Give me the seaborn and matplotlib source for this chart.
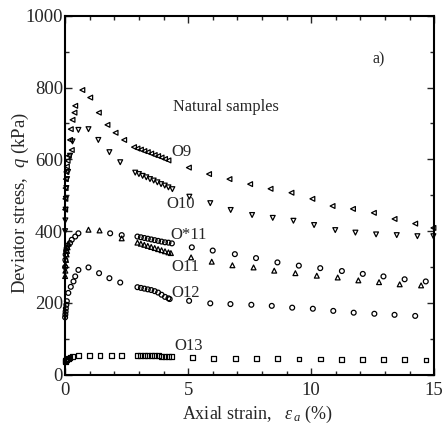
import numpy as np
import pandas as pd
import matplotlib
matplotlib.use("Agg")
import matplotlib.pyplot as plt
import seaborn as sns

# ---- data ----
dense_x = [2.80, 2.94, 3.08, 3.22, 3.36, 3.50, 3.64, 3.78, 3.92, 4.06, 4.20]

o9_x = [0.0, 0.01, 0.02, 0.03, 0.05, 0.07, 0.10, 0.15, 0.20, 0.23, 0.27, 0.30, 0.38, 0.41,
        0.70, 1.02, 1.37, 1.72, 2.05, 2.40] + dense_x + \
       [5.03, 5.85, 6.68, 7.52, 8.35, 9.20, 10.05, 10.87, 11.70, 12.55, 13.39, 14.23, 14.97]
o9_y = [460, 490, 520, 545, 565, 580, 596, 610, 654, 684, 626, 710, 730, 749,
        793, 772, 730, 696, 674, 654] + \
       [634, 630, 627, 623, 620, 616, 612, 609, 605, 601, 597] + \
       [577, 559, 545, 531, 518, 507, 490, 470, 462, 451, 434, 421, 409]

o10_x = [0.0, 0.01, 0.02, 0.03, 0.05, 0.08, 0.12, 0.20, 0.30, 0.54, 0.95, 1.35, 1.80, 2.24] + \
        [2.85, 3.00, 3.15, 3.30, 3.45, 3.60, 3.75, 3.90, 4.05, 4.20, 4.36] + \
        [5.05, 5.90, 6.73, 7.60, 8.44, 9.28, 10.12, 10.98, 11.80, 12.64, 13.48, 14.32, 14.97]
o10_y = [400, 430, 460, 490, 520, 545, 565, 610, 650, 682, 684, 654, 620, 592] + \
        [563, 559, 554, 550, 545, 541, 536, 531, 527, 522, 517] + \
        [496, 478, 459, 445, 437, 429, 417, 403, 396, 391, 389, 386, 386]

os11_x = [0.0, 0.01, 0.02, 0.04, 0.06, 0.10, 0.20, 0.27, 0.41, 0.54, 1.83, 2.30] + \
         [2.94, 3.08, 3.22, 3.36, 3.50, 3.64, 3.78, 3.92, 4.06, 4.20, 4.34] + \
         [5.15, 6.00, 6.90, 7.76, 8.63, 9.50, 10.37, 11.25, 12.10, 12.94, 13.80, 14.66]
os11_y = [300, 320, 335, 345, 352, 360, 367, 376, 385, 394, 394, 389] + \
         [385, 383, 381, 379, 377, 375, 373, 371, 369, 368, 366] + \
         [355, 346, 336, 325, 313, 304, 297, 289, 281, 274, 266, 260]

o11_x = [0.0, 0.01, 0.02, 0.04, 0.06, 0.08, 0.10, 0.14, 0.95, 1.40, 2.30] + \
        [2.94, 3.08, 3.22, 3.36, 3.50, 3.64, 3.78, 3.92, 4.06, 4.20, 4.30] + \
        [5.12, 5.96, 6.80, 7.66, 8.50, 9.36, 10.23, 11.08, 11.92, 12.76, 13.60, 14.47]
o11_y = [275, 290, 305, 320, 335, 345, 355, 365, 404, 402, 380] + \
        [368, 365, 362, 359, 356, 353, 350, 347, 344, 341, 339] + \
        [327, 315, 305, 299, 290, 283, 276, 271, 263, 258, 252, 249]

o12_x = [0.0, 0.01, 0.02, 0.03, 0.05, 0.07, 0.13, 0.23, 0.34, 0.41, 0.54, 0.95, 1.38, 1.80, 2.24] + \
        [2.94, 3.08, 3.22, 3.36, 3.50, 3.64, 3.78, 3.92, 4.06, 4.20, 4.25] + \
        [5.04, 5.90, 6.72, 7.57, 8.40, 9.23, 10.07, 10.90, 11.73, 12.57, 13.39, 14.23]
o12_y = [160, 168, 176, 185, 195, 205, 228, 245, 260, 274, 292, 299, 283, 269, 257] + \
        [244, 242, 240, 238, 236, 233, 229, 223, 217, 213, 211] + \
        [206, 199, 197, 195, 192, 187, 184, 178, 173, 170, 167, 164]

o13_x = [0.0, 0.02, 0.05, 0.08, 0.13, 0.20, 0.30, 0.54, 0.98, 1.42, 1.87, 2.30] + \
        [2.94, 3.08, 3.22, 3.36, 3.50, 3.64, 3.78, 3.92, 4.06, 4.20, 4.34] + \
        [5.19, 6.04, 6.92, 7.78, 8.64, 9.51, 10.37, 11.23, 12.10, 12.94, 13.80, 14.67]
o13_y = [37, 40, 42, 44, 46, 48, 50, 53, 54, 54, 53, 53] + \
        [53, 53, 53, 53, 53, 53, 53, 52, 52, 51, 51] + \
        [49, 46, 46, 45, 45, 44, 44, 43, 42, 42, 42, 41]

series = {
    "O9": (o9_x, o9_y, "<"),
    "O10": (o10_x, o10_y, "v"),
    "O*11": (os11_x, os11_y, "o"),
    "O11": (o11_x, o11_y, "^"),
    "O12": (o12_x, o12_y, "o"),
    "O13": (o13_x, o13_y, "s"),
}

labels = ["O9", "O10", "O*11", "O11", "O12", "O13"]
label_x = [4.30, 4.13, 4.27, 4.30, 4.30, 4.43]
label_y = [621, 476, 388, 301, 229, 79]

# ---- style ----
sns.set_theme(style="ticks")
plt.rcParams["font.family"] = ["Liberation Serif", "DejaVu Serif"]
plt.rcParams["mathtext.fontset"] = "custom"
plt.rcParams["mathtext.rm"] = "Liberation Serif"
plt.rcParams["mathtext.it"] = "Liberation Serif:italic"

fig = plt.figure(figsize=(4.43, 4.24), dpi=100)
ax = fig.add_axes([0.147, 0.116, 0.833, 0.847])

for name, (xs, ys, m) in series.items():
    df = pd.DataFrame({"x": xs, "y": ys})
    sns.scatterplot(data=df, x="x", y="y", marker=m, s=12, facecolor="none",
                    edgecolor="black", linewidth=0.9, ax=ax, legend=False,
                    clip_on=False, zorder=3)

for t, tx, ty in zip(labels, label_x, label_y):
    ax.text(tx, ty, t, fontsize=12, va="center", ha="left")

ax.text(4.38, 747, "Natural samples", fontsize=11.7, va="center", ha="left")
ax.text(12.5, 877, "a)", fontsize=11.5, va="center", ha="left")

ax.set_xlim(0, 15)
ax.set_ylim(0, 1000)
ax.set_xticks([0, 5, 10, 15])
ax.set_yticks([0, 200, 400, 600, 800, 1000])
ax.set_xticks(np.arange(0, 16, 1), minor=True)
ax.set_yticks(np.arange(0, 1001, 100), minor=True)
ax.tick_params(which="both", direction="in", top=True, right=True, width=1.0,
               labelsize=13.5)
ax.tick_params(axis="x", which="major", pad=5)
ax.tick_params(axis="y", which="major", pad=1.5)
ax.tick_params(which="major", length=5)
ax.tick_params(which="minor", length=3)
for sp in ax.spines.values():
    sp.set_linewidth(1.5)
    sp.set_color("black")

ax.set_xlabel(r"Axial strain,   $\varepsilon_{\,a}$ (%)", fontsize=13, va="top")
ax.xaxis.set_label_coords(0.52, -0.082)
ax.set_ylabel(r"Deviator stress,  $q$ (kPa)", fontsize=13.5, va="bottom")
ax.yaxis.set_label_coords(-0.092, 0.479)

fig.savefig("out.png", dpi=100)
